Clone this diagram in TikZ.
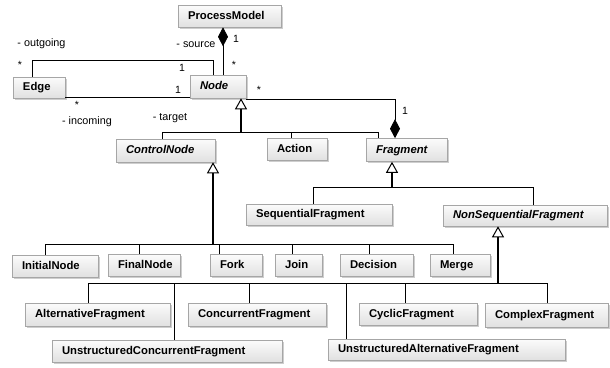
\documentclass[tikz,border=0pt]{standalone}
\usepackage{fontspec}
\setmainfont{Liberation Sans}
\usetikzlibrary{arrows.meta,shadows}
\tikzset{
  cls/.style={draw=gray!70, line width=0.6pt, top color=gray!3, bottom color=gray!24,
    drop shadow={shadow xshift=1.8pt, shadow yshift=-1.8pt, fill=gray!70, opacity=0.55},
    inner ysep=0pt, inner xsep=10pt, align=left, text height=8.3pt, text depth=2.3pt,
    font=\fontsize{11.3}{12}\selectfont\bfseries},
  abscls/.style={cls, font=\fontsize{11.3}{12}\selectfont\bfseries\itshape},
  lbl/.style={font=\fontsize{10.8}{12}\selectfont, inner sep=0pt},
  mult/.style={font=\fontsize{10.5}{12}\selectfont, inner sep=0pt},
  assoc/.style={draw=black, line width=0.7pt},
  bus/.style={draw=black, line width=0.75pt},
  spine/.style={draw=black, line width=1.7pt, -{Triangle[open, length=11pt, width=12pt, line width=1pt]}},
  comp/.style={draw=black, line width=0.75pt}
}
\begin{document}
\begin{tikzpicture}[x=1pt,y=-1pt]
\useasboundingbox (0,0) rectangle (610,367);
% classes
\node[cls, minimum width=103pt, minimum height=22pt, text width=83pt] (PM) at (229.5,16) {ProcessModel};
\node[cls, minimum width=52pt, minimum height=21pt, text width=32pt] (Edge) at (39,87.5) {Edge};
\node[abscls, minimum width=56pt, minimum height=23pt, text width=36pt] (Node) at (218,86.5) {Node};
\node[abscls, minimum width=99pt, minimum height=23pt, text width=79pt] (CN) at (165.5,150.5) {ControlNode};
\node[cls, minimum width=60pt, minimum height=22pt, text width=40pt] (Action) at (297,149.5) {Action};
\node[abscls, minimum width=81pt, minimum height=23pt, text width=61pt] (Frag) at (406.5,150) {Fragment};
\node[cls, minimum width=146pt, minimum height=21pt, text width=126pt] (Seq) at (319,214.5) {SequentialFragment};
\node[abscls, minimum width=164pt, minimum height=21pt, text width=144pt] (NonSeq) at (525,215.5) {NonSequentialFragment};
\node[cls, minimum width=86pt, minimum height=22pt, text width=66pt] (Init) at (55,266) {InitialNode};
\node[cls, minimum width=72pt, minimum height=22pt, text width=52pt] (Final) at (144,265.5) {FinalNode};
\node[cls, minimum width=52pt, minimum height=22pt, text width=32pt] (Fork) at (236,265.5) {Fork};
\node[cls, minimum width=47pt, minimum height=22pt, text width=27pt] (Join) at (298.5,265.5) {Join};
\node[cls, minimum width=73pt, minimum height=22pt, text width=53pt] (Dec) at (376.5,265.5) {Decision};
\node[cls, minimum width=60pt, minimum height=22pt, text width=40pt] (Merge) at (460,265.5) {Merge};
\node[cls, minimum width=145pt, minimum height=23pt, text width=125pt] (Alt) at (97.5,314.5) {AlternativeFragment};
\node[cls, minimum width=138pt, minimum height=23pt, text width=118pt] (Conc) at (257,314.5) {ConcurrentFragment};
\node[cls, minimum width=118pt, minimum height=22pt, text width=98pt] (Cyc) at (418,314) {CyclicFragment};
\node[cls, minimum width=123pt, minimum height=24pt, text width=103pt] (Cplx) at (546.5,315) {ComplexFragment};
\node[cls, minimum width=230pt, minimum height=22pt, text width=210pt] (UConc) at (167,351) {UnstructuredConcurrentFragment};
\node[cls, minimum width=237pt, minimum height=21pt, text width=217pt] (UAlt) at (446.5,349.5) {UnstructuredAlternativeFragment};

% associations
\draw[assoc] (Edge.north -| 32,0) -- (32,60) -- (213,60) -- (Node.north -| 213,0);
\draw[assoc] (Edge.east |- 0,97) -- (Node.west |- 0,97);
\draw[comp, {Diamond[length=19pt, width=10pt]}-] (PM.south -| 223,0) -- (Node.north -| 223,0);
\draw[comp, -{Diamond[length=19pt, width=10pt]}] (Node.east |- 0,99) -- (395,99) -- (Frag.north -| 395,0);

% association labels
\node[lbl] (lout) at (41.5,44) {- outgoing};
\node[lbl] (lsrc) at (196,45) {- source};
\node[lbl] (linc) at (87,122) {- incoming};
\node[lbl] (ltgt) at (170,118) {- target};
\node[mult] (m1) at (20,65) {*};
\node[mult] (m2) at (182,68) {1};
\node[mult] (m3) at (178,90) {1};
\node[mult] (m4) at (77,105) {*};
\node[mult] (m5) at (236,39) {1};
\node[mult] (m6) at (234,65) {*};
\node[mult] (m7) at (259,90) {*};
\node[mult] (m8) at (405,111) {1};

% generalization: Node
\coordinate (jN) at (241,132);
\draw[spine] (jN) -- (Node.south -| jN);
\draw[bus] (CN.north -| 162,0) -- (162,132) -- (378,132) -- (Frag.north -| 378,0);
\draw[bus] (291,132) -- (Action.north -| 291,0);

% generalization: ControlNode
\coordinate (jC) at (213,244);
\draw[spine] (jC) -- (CN.south -| jC);
\draw[bus] (Init.north -| 45,0) -- (45,244) -- (453,244) -- (Merge.north -| 453,0);
\draw[bus] (139,244) -- (Final.north -| 139,0);
\draw[bus] (219,244) -- (Fork.north -| 219,0);
\draw[bus] (292,244) -- (Join.north -| 292,0);
\draw[bus] (369,244) -- (Dec.north -| 369,0);

% generalization: Fragment
\coordinate (jF) at (392,187);
\draw[spine] (jF) -- (Frag.south -| jF);
\draw[bus] (Seq.north -| 313,0) -- (313,187) -- (533,187) -- (NonSeq.north -| 533,0);

% generalization: NonSequentialFragment
\coordinate (jS) at (498,283);
\draw[spine] (jS) -- (NonSeq.south -| jS);
\draw[bus] (Alt.north -| 88,0) -- (88,283) -- (547,283) -- (Cplx.north -| 547,0);
\draw[bus] (174,283) -- (UConc.north -| 174,0);
\draw[bus] (249,283) -- (Conc.north -| 249,0);
\draw[bus] (346,283) -- (UAlt.north -| 346,0);
\draw[bus] (405,283) -- (Cyc.north -| 405,0);
\end{tikzpicture}
\end{document}
